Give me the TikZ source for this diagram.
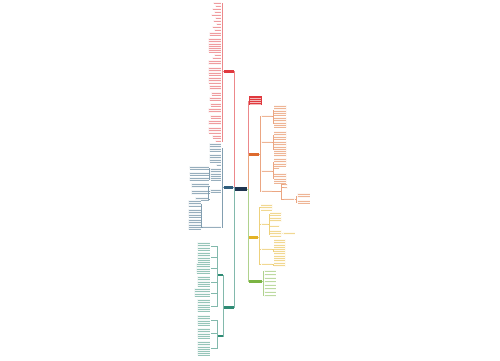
\documentclass[tikz,border=0pt]{standalone}
\usepackage{xcolor}

\definecolor{mmred}{HTML}{E0393E}
\definecolor{mmorange}{HTML}{DD6A2E}
\definecolor{mmyellow}{HTML}{E3B225}
\definecolor{mmgreen}{HTML}{7BB443}
\definecolor{mmblue}{HTML}{2F5D7C}
\definecolor{mmteal}{HTML}{2E8B74}
\definecolor{mmnavy}{HTML}{1F3550}

\tikzset{
    leaf/.style={inner sep=0pt, fill=#1!5, path picture={
        \foreach \k in {1,...,12}
            \draw[#1!50, line width=0.75pt]
                ([xshift=0.3pt, yshift={-\k*2.2pt+0.9pt}]path picture bounding box.north west) --
                ([xshift=-0.3pt, yshift={-\k*2.2pt+0.9pt}]path picture bounding box.north east);}},
    branch/.style={inner sep=0pt, fill=#1, minimum height=3pt},
    topbox/.style={inner sep=0pt, fill=mmred, path picture={
        \foreach \k in {1,...,4}
            \draw[mmred!35, line width=0.6pt]
                ([xshift=0.8pt, yshift={-\k*2.1pt+0.4pt}]path picture bounding box.north west) --
                ([xshift=-0.8pt, yshift={-\k*2.1pt+0.4pt}]path picture bounding box.north east);}},
    link/.style={draw=#1!60, line width=0.3pt},
}

\begin{document}
\begin{tikzpicture}[x=1pt, y=-1pt]
\useasboundingbox (0,0) rectangle (500,360);

% root
\node[branch=mmnavy, minimum width=12pt, minimum height=4pt] (root) at (241,189) {};

% left: red
\node[branch=mmred, minimum width=10pt] (rb) at (229,71) {};
\foreach \n/\y/\h/\w in {1/2/2/8, 2/5/2/6, 3/8/2/9, 4/11/2/7, 5/14/2/10, 6/17/2/6, 7/20/2/8,
    8/23/2/5, 9/26/2/9, 10/29/2/7, 11/32/4/12, 12/38/14/13, 13/54/2/7, 14/57/2/9, 15/60/5/13,
    16/67/8/13, 17/77/6/13, 18/85/5/12, 19/92/3/10, 20/97/4/12, 21/103/3/11, 22/108/5/13,
    23/115/3/11, 24/120/5/13, 25/127/6/13, 26/135/3/9, 27/140/2/6}
    \node[leaf=mmred, anchor=north east, minimum width=\w*1pt, minimum height=\h*1pt] (r\n) at (221.5,\y) {};
\foreach \n in {1,...,27}
    \draw[link=mmred] (rb.west) -- ++(-1.2,0) |- (r\n.east);
\draw[link=mmred] (root.west) -- ++(-0.7,0) |- (rb.east);

% left: blue
\node[branch=mmblue, minimum width=9pt] (bb) at (228.5,187) {};
\foreach \n/\y/\h/\w in {1/143/9/12, 2/154/8/12, 3/163.5/2/5, 4/168/12/11, 5/189/4/11, 6/226/2/19}
    \node[leaf=mmblue, anchor=north east, minimum width=\w*1pt, minimum height=\h*1pt] (b\n) at (221.5,\y) {};
\foreach \n in {1,...,6}
    \draw[link=mmblue] (bb.west) -- ++(-1.2,0) |- (b\n.east);
\foreach \n/\y/\h/\w in {1/166/3/20, 2/171.5/3.5/20, 3/177/4/20}
    \node[leaf=mmblue, anchor=north east, minimum width=\w*1pt, minimum height=\h*1pt] (ba\n) at (209.5,\y) {};
\foreach \n/\y/\h/\w in {1/183/5/18, 2/190/5/18, 3/197/3/14}
    \node[leaf=mmblue, anchor=north east, minimum width=\w*1pt, minimum height=\h*1pt] (bc\n) at (209.5,\y) {};
\foreach \n/\y/\h/\w in {1/200/7/13, 2/209/8/13, 3/219/11/13}
    \node[leaf=mmblue, anchor=north east, minimum width=\w*1pt, minimum height=\h*1pt] (bd\n) at (201.5,\y) {};
\foreach \n in {1,2,3} {
    \draw[link=mmblue] (b4.west) -- ++(-0.8,0) |- (ba\n.east);
    \draw[link=mmblue] (b5.west) -- ++(-1.5,0) |- (bc\n.east);
    \draw[link=mmblue] (b6.west) -- ++(-0.6,0) |- (bd\n.east);
}
\draw[link=mmblue] (root.west) -- ++(-0.7,0) |- (bb.east);

% left: teal
\node[branch=mmteal, minimum width=10pt] (tb) at (228.5,307.5) {};
\node[branch=mmteal, minimum width=5pt, minimum height=2pt] (ts1) at (220.5,275) {};
\node[branch=mmteal, minimum width=5pt, minimum height=2pt] (ts2) at (220.5,336) {};
\foreach \n/\y/\h/\w in {1/242/8/13, 2/252/10/13, 3/263/10/14, 4/276/11/13, 5/288/9/16,
    6/299/13/13, 7/315/10/13, 8/328/10/13, 9/341/14/13}
    \node[leaf=mmteal, anchor=north east, minimum width=\w*1pt, minimum height=\h*1pt] (t\n) at (210.5,\y) {};
\foreach \n in {1,...,6}
    \draw[link=mmteal] (ts1.west) -- ++(-1,0) |- (t\n.east);
\foreach \n in {7,8,9}
    \draw[link=mmteal] (ts2.west) -- ++(-1,0) |- (t\n.east);
\draw[link=mmteal] (tb.west) -- ++(-0.5,0) |- (ts1.east);
\draw[link=mmteal] (tb.west) -- ++(-0.5,0) |- (ts2.east);
\draw[link=mmteal] (root.west) -- ++(-0.7,0) |- (tb.east);

% right: red
\node[topbox, anchor=north west, minimum width=13pt, minimum height=9pt] (rt) at (249,96) {};
\draw[link=mmred] (root.east) -- ++(1,0) |- (rt.west);

% right: orange
\node[branch=mmorange, minimum width=10pt] (ob) at (254,154) {};
\foreach \n/\y/\w in {1/116/11, 2/142/11, 3/171/11, 4/191/11}
    \node[leaf=mmorange, anchor=west, minimum width=\w*1pt, minimum height=2pt] (os\n) at (261,\y) {};
\foreach \n in {1,...,4}
    \draw[link=mmorange] (ob.east) -- ++(1,0) |- (os\n.west);
\foreach \n/\y/\h/\w in {1/105/10/13, 2/117/11/13, 3/131/8/13, 4/141/16/13,
    5/158/8/13, 6/167/2/6, 7/173/10/13}
    \node[leaf=mmorange, anchor=north west, minimum width=\w*1pt, minimum height=\h*1pt] (ol\n) at (273.5,\y) {};
\foreach \n/\p in {1/1, 2/1, 3/2, 4/2, 5/3, 6/3, 7/3}
    \draw[link=mmorange] (os\p.east) -- ++(0.8,0) |- (ol\n.west);
\foreach \n/\y in {1/184.5, 2/187.5}
    \node[leaf=mmorange, anchor=west, minimum width=4pt, minimum height=2pt] (oq\n) at (283.5,\y) {};
\node[leaf=mmorange, anchor=west, minimum width=11pt, minimum height=2pt] (oq3) at (283.5,199) {};
\foreach \n in {1,2,3}
    \draw[link=mmorange] (os4.east) -- ++(9,0) |- (oq\n.west);
\node[leaf=mmorange, anchor=north west, minimum width=13pt, minimum height=5pt] (ow1) at (297,193) {};
\node[leaf=mmorange, anchor=north west, minimum width=13pt, minimum height=3pt] (ow2) at (297,200) {};
\foreach \n in {1,2}
    \draw[link=mmorange] (oq3.east) -- ++(0.8,0) |- (ow\n.west);
\draw[link=mmorange] (root.east) -- ++(1,0) |- (ob.west);

% right: yellow
\node[branch=mmyellow, minimum width=9pt] (yb) at (253.5,237) {};
\node[leaf=mmyellow, anchor=north west, minimum width=12pt, minimum height=6pt] (ys0) at (260.5,204) {};
\node[leaf=mmyellow, anchor=west, minimum width=7pt, minimum height=2pt] (ys1) at (261,224) {};
\node[leaf=mmyellow, anchor=west, minimum width=11pt, minimum height=2pt] (ys2) at (261,249) {};
\node[leaf=mmyellow, anchor=west, minimum width=11pt, minimum height=2pt] (ys3) at (261,264) {};
\foreach \n in {0,...,3}
    \draw[link=mmyellow] (yb.east) -- ++(1,0) |- (ys\n.west);
\foreach \n/\y/\h/\w in {1/212/3/12, 2/217/5/12, 3/225/2/10, 4/230/7/12}
    \node[leaf=mmyellow, anchor=north west, minimum width=\w*1pt, minimum height=\h*1pt] (ya\n) at (269.5,\y) {};
\foreach \n in {1,...,4}
    \draw[link=mmyellow] (ys1.east) -- ++(0.8,0) |- (ya\n.west);
\node[leaf=mmyellow, anchor=north west, minimum width=12pt, minimum height=3pt] (yx) at (283,231.5) {};
\draw[link=mmyellow] (ya4.east) -- (yx.west);
\node[leaf=mmyellow, anchor=north west, minimum width=12pt, minimum height=23pt] (yc) at (273.5,239) {};
\node[leaf=mmyellow, anchor=north west, minimum width=12pt, minimum height=5pt] (yd) at (273.5,262) {};
\draw[link=mmyellow] (ys2.east) -- ++(0.8,0) |- (yc.west);
\draw[link=mmyellow] (ys3.east) -- ++(0.8,0) |- (yd.west);
\draw[link=mmyellow] (root.east) -- ++(1,0) |- (yb.west);

% right: green
\node[branch=mmgreen, minimum width=13pt] (gb) at (255.5,281) {};
\foreach \n/\y in {1/271, 2/274.5, 3/278, 4/281.5, 5/285, 6/288.5, 7/292, 8/295.5}
    \node[leaf=mmgreen, anchor=west, minimum width=12pt, minimum height=2pt] (g\n) at (264,\y) {};
\foreach \n in {1,...,8}
    \draw[link=mmgreen] (gb.east) -- ++(0.8,0) |- (g\n.west);
\draw[link=mmgreen] (root.east) -- ++(1,0) |- (gb.west);
\end{tikzpicture}
\end{document}
